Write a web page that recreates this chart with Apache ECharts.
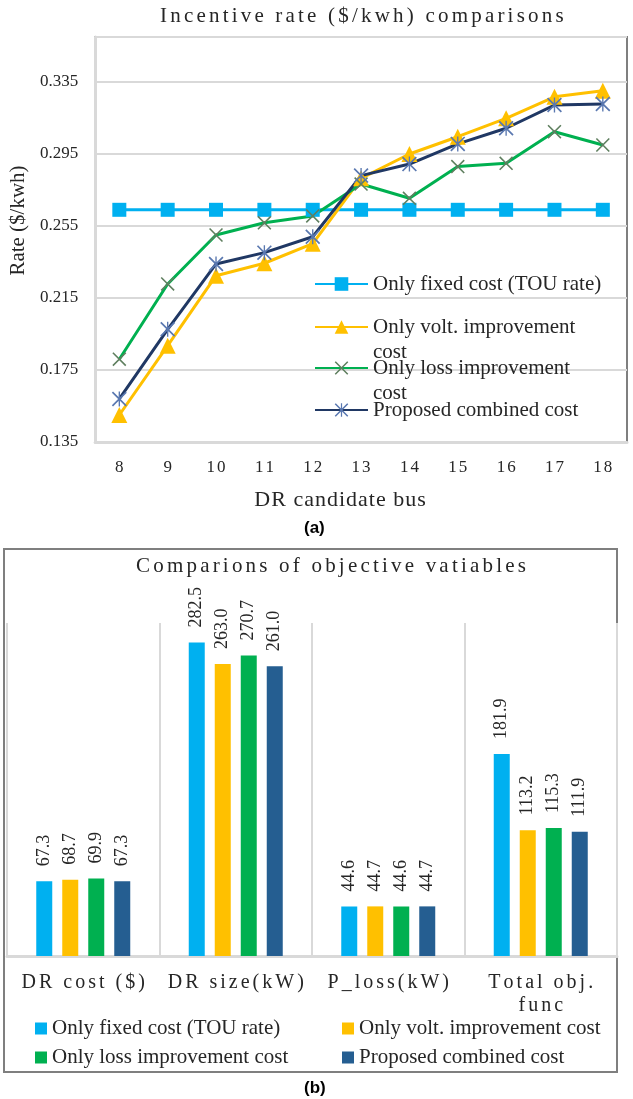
<!DOCTYPE html>
<html>
<head>
<meta charset="utf-8">
<script src="https://cdn.jsdelivr.net/npm/echarts@6/dist/echarts.min.js"></script>
<style>
html,body{margin:0;padding:0;background:#fff;}
#chart{width:633px;height:1099px;}
</style>
</head>
<body>
<div id="chart"></div>
<script>
// ---------- data ----------
const buses = ['8','9','10','11','12','13','14','15','16','17','18'];
const fixedRate    = [0.264,0.264,0.264,0.264,0.264,0.264,0.264,0.264,0.264,0.264,0.264];
const voltRate     = [0.150,0.1885,0.2274,0.2343,0.2452,0.2815,0.295,0.3046,0.3148,0.3268,0.3302];
const lossRate     = [0.181,0.2228,0.250,0.2568,0.2606,0.2783,0.2704,0.288,0.2898,0.3074,0.300];
const combinedRate = [0.1589,0.1976,0.2339,0.2402,0.249,0.283,0.2894,0.3006,0.3093,0.3222,0.3228];

const objectives = ['DR cost ($)','DR size(kW)','P_loss(kW)','Total obj.\nfunc'];
const fixedObj    = [67.3,282.5,44.6,181.9];
const voltObj     = [68.7,263.0,44.7,113.2];
const lossObj     = [69.9,270.7,44.6,115.3];
const combinedObj = [67.3,261.0,44.7,111.9];

const seriesNames = ['Only fixed cost (TOU rate)','Only volt. improvement cost','Only loss improvement cost','Proposed combined cost'];
const titleA = 'Incentive rate ($/kwh) comparisons';
const titleB = 'Comparions of objective vatiables';
const xNameA = 'DR candidate bus';

// ---------- character spacing for Excel-style spaced texts ----------
const spacing = {};
spacing[titleA] = 3.2;
spacing[titleB] = 3.2;
spacing[xNameA] = 1;
['DR cost ($)','DR size(kW)','P_loss(kW)','Total obj.','func'].forEach(t => spacing[t] = 3);
buses.forEach(t => spacing[t] = 2);
const origFill = CanvasRenderingContext2D.prototype.fillText;
CanvasRenderingContext2D.prototype.fillText = function(t, x, y, m) {
  const sp = spacing[t];
  if (sp) {
    const chars = Array.from(t);
    const ws = chars.map(ch => this.measureText(ch).width);
    const total = ws.reduce((a, b) => a + b, 0) + sp * (chars.length - 1);
    const align = this.textAlign;
    let cx = x;
    if (align === 'center') cx = x - total / 2;
    else if (align === 'right' || align === 'end') cx = x - total;
    this.textAlign = 'left';
    chars.forEach((ch, i) => { origFill.call(this, ch, cx, y); cx += ws[i] + sp; });
    this.textAlign = align;
    return;
  }
  return m === undefined ? origFill.call(this, t, x, y) : origFill.call(this, t, x, y, m);
};

// ---------- styles ----------
const SERIF = 'Liberation Serif';
const TXT = '#262626';
const C_BLUE = '#00B0F0', C_YEL = '#FFC000', C_GRN = '#00B050', C_NAVY_LINE = '#203864', C_NAVY_BAR = '#255E91';
const barColors = [C_BLUE, C_YEL, C_GRN, C_NAVY_BAR];
const X_PATH = 'path://M0,0.8L0.8,0L10,9.2L9.2,10Z M9.2,0L10,0.8L0.8,10L0,9.2Z';
const STAR_PATH = 'path://M0,0.8L0.8,0L10,9.2L9.2,10Z M9.2,0L10,0.8L0.8,10L0,9.2Z M4.55,0L5.45,0L5.45,10L4.55,10Z';

function topLegend(name, top, twoLine) {
  return {
    data: [name], left: 314, top: top, orient: 'vertical', padding: 0,
    itemWidth: 53, itemHeight: 17,
    selectedMode: false,
    formatter: n => twoLine ? '\n' + n.replace(' cost', '\ncost') : n,
    textStyle: { fontFamily: SERIF, fontSize: 21, color: TXT, lineHeight: 25 }
  };
}
function botLegend(idx, left, top) {
  return {
    data: [{ name: seriesNames[idx], icon: 'rect', itemStyle: { color: barColors[idx] } }],
    left: left, top: top, padding: 0,
    itemWidth: 12, itemHeight: 12, selectedMode: false,
    textStyle: { fontFamily: SERIF, fontSize: 21, color: TXT, lineHeight: 25 }
  };
}
const barLabel = {
  show: true, position: 'top', rotate: 90, align: 'left', verticalAlign: 'middle', distance: 15,
  fontFamily: SERIF, fontSize: 18, color: TXT, formatter: p => p.value.toFixed(1)
};

const chart = echarts.init(document.getElementById('chart'), null, { renderer: 'canvas' });
const option = {
  animation: false,
  backgroundColor: '#fff',
  textStyle: { fontFamily: SERIF },
  title: [
    { text: titleA, left: 160, top: 6, padding: 0,
      textStyle: { fontFamily: SERIF, fontSize: 21, fontWeight: 'normal', color: TXT } },
    { text: titleB, left: 136, top: 556, padding: 0,
      textStyle: { fontFamily: SERIF, fontSize: 21, fontWeight: 'normal', color: TXT } }
  ],
  graphic: [
    { type: 'rect', shape: { x: 4, y: 549, width: 613, height: 523 },
      style: { fill: 'none', stroke: '#7f7f7f', lineWidth: 2 }, z: -1 },
    { type: 'text', left: 304, top: 520,
      style: { text: '(a)', font: 'bold 17px "Liberation Sans"', fill: '#000' } },
    { type: 'text', left: 304, top: 1080,
      style: { text: '(b)', font: 'bold 17px "Liberation Sans"', fill: '#000' } }
  ],
  legend: [
    topLegend(seriesNames[0], 271.5, false),
    topLegend(seriesNames[1], 289.5, true),
    topLegend(seriesNames[2], 330.5, true),
    topLegend(seriesNames[3], 397.5, false),
    botLegend(0, 35, 1016),
    botLegend(1, 342, 1016),
    botLegend(2, 35, 1045),
    botLegend(3, 342, 1045)
  ],
  grid: [
    { left: 95, top: 37, width: 532, height: 405, show: true, borderColor: '#7f7f7f', borderWidth: 2, backgroundColor: '#fff' },
    { left: 7, top: 623, width: 610, height: 333 }
  ],
  xAxis: [
    { type: 'category', gridIndex: 0, data: buses, boundaryGap: true,
      axisLine: { lineStyle: { color: '#d9d9d9', width: 3 } },
      axisTick: { show: false },
      axisLabel: { interval: 0, margin: 17, fontFamily: SERIF, fontSize: 17, color: TXT },
      name: xNameA, nameLocation: 'middle', nameGap: 47,
      nameTextStyle: { fontFamily: SERIF, fontSize: 22, color: TXT, padding: [0, 42, 0, 0] } },
    { type: 'category', gridIndex: 1, data: objectives, boundaryGap: true,
      axisLine: { lineStyle: { color: '#d9d9d9', width: 3 } },
      axisTick: { show: false },
      splitLine: { show: true, lineStyle: { color: '#d9d9d9', width: 2 } },
      axisLabel: { interval: 0, margin: 15, fontFamily: SERIF, fontSize: 20, color: TXT, lineHeight: 23 } }
  ],
  yAxis: [
    { type: 'value', gridIndex: 0, min: 0.135, max: 0.36, interval: 0.04,
      axisLine: { show: true, lineStyle: { color: '#d9d9d9', width: 3 } },
      axisTick: { show: false },
      splitLine: { lineStyle: { color: '#d9d9d9', width: 2 } },
      axisLabel: { showMaxLabel: false, margin: 17, fontFamily: SERIF, fontSize: 17, color: TXT,
                   formatter: v => v.toFixed(3) },
      name: 'Rate ($/kwh)', nameLocation: 'middle', nameGap: 49, nameRotate: 90,
      nameTextStyle: { fontFamily: SERIF, fontSize: 21, color: TXT, padding: [0,0,0,38] } },
    { type: 'value', gridIndex: 1, min: 0, max: 300, show: false, splitLine: { show: false } }
  ],
  series: [
    { name: seriesNames[0], type: 'line', xAxisIndex: 0, yAxisIndex: 0, data: fixedRate,
      symbol: 'rect', symbolSize: 14,
      lineStyle: { color: C_BLUE, width: 3 }, itemStyle: { color: C_BLUE } },
    { name: seriesNames[1], type: 'line', xAxisIndex: 0, yAxisIndex: 0, data: voltRate,
      symbol: 'triangle', symbolSize: 16,
      lineStyle: { color: C_YEL, width: 3 }, itemStyle: { color: C_YEL } },
    { name: seriesNames[2], type: 'line', xAxisIndex: 0, yAxisIndex: 0, data: lossRate,
      symbol: X_PATH, symbolSize: 14, symbolKeepAspect: true,
      lineStyle: { color: C_GRN, width: 3 }, itemStyle: { color: '#5f7f5f' } },
    { name: seriesNames[3], type: 'line', xAxisIndex: 0, yAxisIndex: 0, data: combinedRate,
      symbol: STAR_PATH, symbolSize: 15, symbolKeepAspect: true,
      lineStyle: { color: C_NAVY_LINE, width: 3 }, itemStyle: { color: '#5a78b0' } },

    { name: seriesNames[0], type: 'bar', xAxisIndex: 1, yAxisIndex: 1, data: fixedObj,
      barWidth: 16, barGap: '62.5%', itemStyle: { color: C_BLUE }, label: barLabel },
    { name: seriesNames[1], type: 'bar', xAxisIndex: 1, yAxisIndex: 1, data: voltObj,
      barWidth: 16, barGap: '62.5%', itemStyle: { color: C_YEL }, label: barLabel },
    { name: seriesNames[2], type: 'bar', xAxisIndex: 1, yAxisIndex: 1, data: lossObj,
      barWidth: 16, barGap: '62.5%', itemStyle: { color: C_GRN }, label: barLabel },
    { name: seriesNames[3], type: 'bar', xAxisIndex: 1, yAxisIndex: 1, data: combinedObj,
      barWidth: 16, barGap: '62.5%', itemStyle: { color: C_NAVY_BAR }, label: barLabel }
  ]
};
chart.setOption(option);
</script>
</body>
</html>
